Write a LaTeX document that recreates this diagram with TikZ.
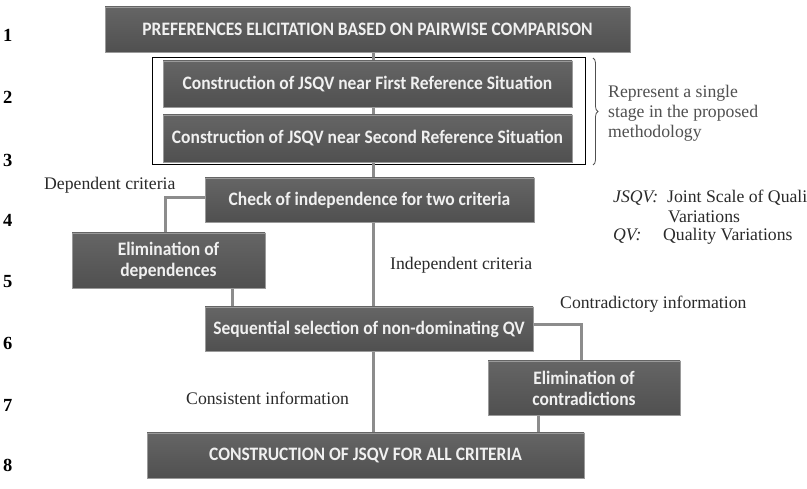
\documentclass[tikz,border=0pt]{standalone}
\usepackage{fontspec}
\setmainfont{Liberation Serif}
\newfontfamily\boxfont[FakeStretch=0.92]{Carlito}
\usetikzlibrary{decorations.pathreplacing}
\definecolor{boxgray}{HTML}{595959}
\definecolor{boxtop}{HTML}{656565}
\definecolor{boxbot}{HTML}{505050}
\definecolor{boxedge}{HTML}{9A9A9A}
\definecolor{linegray}{HTML}{8C8C8C}
\definecolor{txtgray}{HTML}{2A2A2A}
\definecolor{repgray}{HTML}{505050}
\definecolor{boxtext}{HTML}{F0F0F0}
\begin{document}
\begin{tikzpicture}[x=1pt,y=-1pt,
  box/.style={rectangle, top color=boxtop, bottom color=boxbot, draw=boxedge, line width=0.7pt, text=boxtext,
    font=\boxfont\bfseries\fontsize{19}{21}\selectfont, inner sep=0pt, align=center},
  conn/.style={draw=linegray, line width=3pt},
  rownum/.style={font=\bfseries\fontsize{18.5}{20}\selectfont, text=black, anchor=west, inner sep=0pt},
  note/.style={font=\fontsize{17.7}{20}\selectfont, text=txtgray, anchor=west, inner sep=0pt}]
\useasboundingbox[fill=white] (0,0) rectangle (807,489);
\coordinate (sp) at (373,0);
\coordinate (c5) at (232,0);
\coordinate (c7) at (538,0);
\coordinate (d1) at (165,198);
\coordinate (k1) at (581,325);
% row numbers
\node[rownum] (n1) at (3,35) {1};
\node[rownum] (n2) at (3,97) {2};
\node[rownum] (n3) at (3,160) {3};
\node[rownum] (n4) at (3,220) {4};
\node[rownum] (n5) at (3,282) {5};
\node[rownum] (n6) at (3,343) {6};
\node[rownum] (n7) at (3,405) {7};
\node[rownum] (n8) at (3,465) {8};
% connectors (drawn first, boxes on top)
\draw[conn] (sp |- 0,52) -- (sp |- 0,178);
\draw[conn] (sp |- 0,222) -- (sp |- 0,433);
\draw[conn] (205,198) -- (d1) -- (d1 |- 0,233);
\draw[conn] (c5 |- 0,288) -- (c5 |- 0,307);
\draw[conn] (533,325) -- (k1) -- (k1 |- 0,361);
\draw[conn] (c7 |- 0,415) -- (c7 |- 0,433);
% boxes
\node[box, minimum width=525pt, minimum height=45pt] (b1) at (367.5,29.5) {PREFERENCES ELICITATION BASED ON PAIRWISE COMPARISON};
\node[draw=black, line width=1pt, fill=white, minimum width=433pt, minimum height=107pt, inner sep=0pt] (grp) at (368.5,111.5) {};
\draw[conn] (grp.north -| sp) -- (grp.south -| sp);
\node[box, minimum width=409pt, minimum height=46pt] (b2) at (367.5,84) {Construction of JSQV near First Reference Situation};
\node[box, minimum width=409pt, minimum height=47pt] (b3) at (367.5,138.5) {Construction of JSQV near Second Reference Situation};
\node[box, minimum width=329pt, minimum height=44pt] (b4) at (369.5,200) {Check of independence for two criteria};
\node[box, minimum width=193pt, minimum height=55pt] (b5) at (168.5,260.5) {Elimination of\\dependences};
\node[box, minimum width=328pt, minimum height=44pt] (b6) at (369,329) {Sequential selection of non-dominating QV};
\node[box, minimum width=192pt, minimum height=54pt] (b7) at (584,388) {Elimination of\\contradictions};
\node[box, minimum width=437pt, minimum height=45pt] (b8) at (365.5,455.5) {CONSTRUCTION OF JSQV FOR ALL CRITERIA};
% brace
\draw[draw=repgray, line width=0.8pt, decorate, decoration={brace, amplitude=5pt}] (593,58) -- (593,165);
% labels
\node[note, text=repgray, align=left] (rep) at (608,113) {Represent a single\\stage in the proposed\\methodology};
\node[note] (dep) at (44,185) {Dependent criteria};
\node[note] (ind) at (390,265) {Independent criteria};
\node[note] (con) at (560,304) {Contradictory information};
\node[note] (cons) at (186,398) {Consistent information};
\node[note] (jl) at (613,198) {\itshape JSQV:};
\node[note] (jt) at (667,198) {Joint Scale of Quality};
\node[note] (jv) at (668,217) {Variations};
\node[note] (ql) at (613,236) {\itshape QV:};
\node[note] (qt) at (663,236) {Quality Variations};
\end{tikzpicture}
\end{document}
